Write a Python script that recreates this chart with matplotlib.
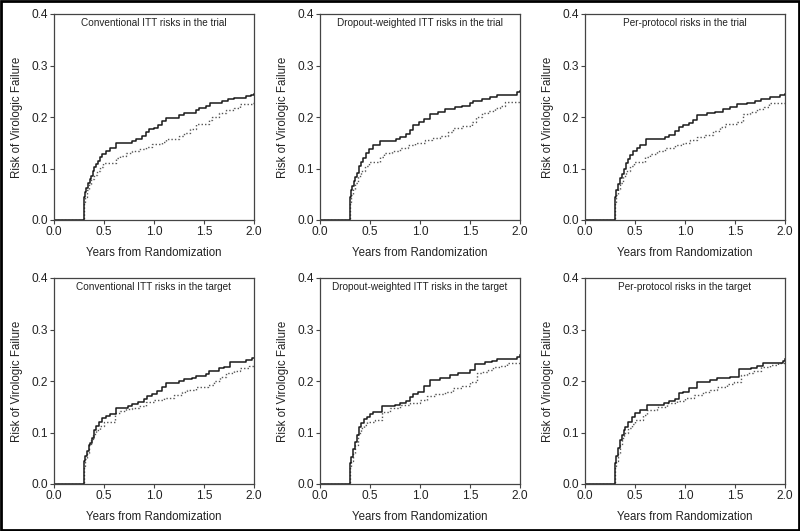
import matplotlib
matplotlib.use('Agg')
import matplotlib.pyplot as plt
from matplotlib.patches import Rectangle

plt.rcParams['font.family'] = ['Liberation Sans', 'DejaVu Sans']

titles = ['Conventional ITT risks in the trial',
          'Dropout-weighted ITT risks in the trial',
          'Per-protocol risks in the trial',
          'Conventional ITT risks in the target',
          'Dropout-weighted ITT risks in the target',
          'Per-protocol risks in the target']

xticks = [0.0, 0.5, 1.0, 1.5, 2.0]
yticks = [0.0, 0.1, 0.2, 0.3, 0.4]

# solid curves (years, risk)
t_solid_1 = [0, 0.30, 0.31, 0.32, 0.34, 0.36, 0.37, 0.39, 0.40, 0.42, 0.44, 0.46, 0.48, 0.52, 0.56, 0.62, 0.78, 0.82, 0.88, 0.92, 0.95, 1.0, 1.04, 1.08, 1.12, 1.25, 1.3, 1.42, 1.45, 1.52, 1.56, 1.68, 1.74, 1.8, 1.92, 1.97, 2.0]
r_solid_1 = [0, 0.045, 0.055, 0.062, 0.072, 0.080, 0.085, 0.095, 0.103, 0.108, 0.115, 0.122, 0.128, 0.134, 0.140, 0.150, 0.154, 0.158, 0.163, 0.170, 0.176, 0.179, 0.185, 0.192, 0.199, 0.204, 0.207, 0.213, 0.217, 0.222, 0.228, 0.231, 0.234, 0.237, 0.240, 0.243, 0.245]
t_dot_1 = [0, 0.30, 0.31, 0.33, 0.35, 0.37, 0.40, 0.43, 0.46, 0.49, 0.62, 0.66, 0.72, 0.78, 0.85, 0.92, 0.98, 1.08, 1.12, 1.25, 1.3, 1.36, 1.42, 1.55, 1.58, 1.65, 1.72, 1.8, 1.86, 1.98, 2.0]
r_dot_1 = [0, 0.035, 0.045, 0.058, 0.07, 0.08, 0.088, 0.095, 0.103, 0.111, 0.12, 0.125, 0.13, 0.134, 0.138, 0.141, 0.148, 0.152, 0.158, 0.163, 0.168, 0.176, 0.186, 0.195, 0.2, 0.207, 0.213, 0.218, 0.226, 0.228, 0.228]

t_solid_2 = [0, 0.30, 0.31, 0.32, 0.34, 0.35, 0.37, 0.39, 0.41, 0.43, 0.46, 0.49, 0.53, 0.60, 0.76, 0.80, 0.86, 0.90, 0.93, 0.99, 1.04, 1.10, 1.18, 1.25, 1.35, 1.42, 1.50, 1.53, 1.62, 1.70, 1.77, 1.92, 1.97, 2.0]
r_solid_2 = [0, 0.045, 0.058, 0.066, 0.075, 0.084, 0.092, 0.104, 0.112, 0.12, 0.131, 0.138, 0.145, 0.154, 0.157, 0.161, 0.167, 0.175, 0.185, 0.19, 0.197, 0.205, 0.21, 0.215, 0.219, 0.222, 0.227, 0.232, 0.235, 0.238, 0.242, 0.243, 0.248, 0.251]
t_dot_2 = [0, 0.30, 0.31, 0.33, 0.35, 0.38, 0.41, 0.45, 0.49, 0.6, 0.64, 0.72, 0.8, 0.88, 0.95, 1.05, 1.12, 1.2, 1.28, 1.33, 1.42, 1.52, 1.56, 1.62, 1.68, 1.75, 1.8, 1.85, 2.0]
r_dot_2 = [0, 0.035, 0.048, 0.06, 0.072, 0.085, 0.095, 0.104, 0.113, 0.122, 0.13, 0.134, 0.139, 0.145, 0.149, 0.155, 0.16, 0.164, 0.17, 0.178, 0.183, 0.19, 0.2, 0.207, 0.212, 0.218, 0.222, 0.229, 0.23]

t_solid_3 = [0, 0.30, 0.31, 0.33, 0.35, 0.37, 0.39, 0.41, 0.43, 0.45, 0.48, 0.52, 0.55, 0.61, 0.80, 0.84, 0.90, 0.94, 0.98, 1.04, 1.08, 1.12, 1.22, 1.30, 1.38, 1.45, 1.52, 1.62, 1.70, 1.76, 1.85, 1.95, 2.0]
r_solid_3 = [0, 0.045, 0.058, 0.07, 0.082, 0.09, 0.1, 0.11, 0.118, 0.126, 0.134, 0.14, 0.145, 0.157, 0.161, 0.166, 0.172, 0.18, 0.184, 0.188, 0.195, 0.203, 0.207, 0.21, 0.215, 0.219, 0.225, 0.228, 0.232, 0.235, 0.238, 0.242, 0.245]
t_dot_3 = [0, 0.30, 0.31, 0.33, 0.35, 0.38, 0.41, 0.45, 0.49, 0.6, 0.65, 0.72, 0.8, 0.9, 0.98, 1.05, 1.12, 1.2, 1.28, 1.35, 1.4, 1.52, 1.58, 1.65, 1.72, 1.79, 1.84, 2.0]
r_dot_3 = [0, 0.035, 0.048, 0.06, 0.072, 0.085, 0.095, 0.104, 0.113, 0.122, 0.129, 0.134, 0.139, 0.145, 0.149, 0.155, 0.161, 0.166, 0.172, 0.18, 0.187, 0.19, 0.205, 0.21, 0.215, 0.219, 0.228, 0.229]

t_solid_4 = [0, 0.30, 0.31, 0.33, 0.35, 0.36, 0.38, 0.40, 0.42, 0.45, 0.48, 0.52, 0.56, 0.62, 0.74, 0.78, 0.84, 0.90, 0.93, 0.98, 1.03, 1.08, 1.12, 1.25, 1.3, 1.38, 1.42, 1.52, 1.55, 1.65, 1.7, 1.76, 1.92, 1.98, 2.0]
r_solid_4 = [0, 0.045, 0.055, 0.065, 0.075, 0.08, 0.09, 0.105, 0.112, 0.12, 0.128, 0.132, 0.136, 0.147, 0.152, 0.156, 0.16, 0.165, 0.17, 0.175, 0.18, 0.188, 0.196, 0.2, 0.203, 0.206, 0.21, 0.214, 0.22, 0.225, 0.228, 0.237, 0.24, 0.244, 0.244]
t_dot_4 = [0, 0.30, 0.31, 0.33, 0.35, 0.37, 0.39, 0.42, 0.46, 0.50, 0.61, 0.66, 0.72, 0.78, 0.85, 0.92, 1.0, 1.1, 1.2, 1.28, 1.33, 1.42, 1.54, 1.6, 1.66, 1.72, 1.8, 1.86, 1.95, 2.0]
r_dot_4 = [0, 0.035, 0.048, 0.06, 0.075, 0.088, 0.098, 0.105, 0.113, 0.121, 0.137, 0.141, 0.145, 0.148, 0.152, 0.16, 0.163, 0.167, 0.172, 0.178, 0.183, 0.188, 0.192, 0.2, 0.208, 0.215, 0.22, 0.225, 0.23, 0.232]

t_solid_5 = [0, 0.30, 0.31, 0.33, 0.35, 0.37, 0.39, 0.41, 0.44, 0.47, 0.50, 0.53, 0.62, 0.75, 0.80, 0.86, 0.90, 0.93, 0.98, 1.04, 1.10, 1.20, 1.30, 1.38, 1.50, 1.55, 1.65, 1.72, 1.77, 1.92, 1.97, 2.0]
r_solid_5 = [0, 0.04, 0.052, 0.068, 0.082, 0.095, 0.111, 0.118, 0.126, 0.131, 0.136, 0.14, 0.151, 0.154, 0.158, 0.162, 0.168, 0.175, 0.179, 0.19, 0.202, 0.206, 0.212, 0.216, 0.221, 0.233, 0.236, 0.239, 0.242, 0.242, 0.247, 0.25]
t_dot_5 = [0, 0.30, 0.31, 0.33, 0.35, 0.38, 0.41, 0.44, 0.47, 0.55, 0.62, 0.7, 0.8, 0.9, 1.0, 1.07, 1.15, 1.25, 1.33, 1.42, 1.5, 1.57, 1.62, 1.68, 1.73, 1.8, 1.87, 2.0]
r_dot_5 = [0, 0.035, 0.045, 0.06, 0.075, 0.1, 0.108, 0.115, 0.121, 0.125, 0.14, 0.147, 0.153, 0.158, 0.163, 0.17, 0.174, 0.179, 0.186, 0.19, 0.199, 0.215, 0.218, 0.222, 0.228, 0.23, 0.234, 0.236]

t_solid_6 = [0, 0.30, 0.31, 0.33, 0.35, 0.37, 0.39, 0.40, 0.43, 0.47, 0.50, 0.55, 0.62, 0.79, 0.84, 0.90, 0.94, 0.98, 1.04, 1.12, 1.25, 1.32, 1.45, 1.54, 1.66, 1.72, 1.78, 1.92, 1.98, 2.0]
r_solid_6 = [0, 0.04, 0.055, 0.07, 0.085, 0.095, 0.105, 0.111, 0.12, 0.131, 0.138, 0.144, 0.153, 0.157, 0.161, 0.166, 0.176, 0.179, 0.186, 0.199, 0.202, 0.205, 0.208, 0.223, 0.226, 0.229, 0.234, 0.234, 0.239, 0.242]
t_dot_6 = [0, 0.30, 0.31, 0.33, 0.35, 0.37, 0.39, 0.43, 0.47, 0.50, 0.58, 0.62, 0.72, 0.82, 0.92, 1.0, 1.09, 1.18, 1.25, 1.32, 1.42, 1.49, 1.56, 1.62, 1.68, 1.76, 1.85, 1.93, 2.0]
r_dot_6 = [0, 0.035, 0.045, 0.06, 0.075, 0.09, 0.1, 0.108, 0.116, 0.124, 0.134, 0.144, 0.15, 0.157, 0.162, 0.167, 0.173, 0.178, 0.182, 0.189, 0.194, 0.199, 0.212, 0.216, 0.22, 0.228, 0.231, 0.234, 0.237]

solids = [(t_solid_1, r_solid_1), (t_solid_2, r_solid_2), (t_solid_3, r_solid_3),
          (t_solid_4, r_solid_4), (t_solid_5, r_solid_5), (t_solid_6, r_solid_6)]
dots = [(t_dot_1, r_dot_1), (t_dot_2, r_dot_2), (t_dot_3, r_dot_3),
        (t_dot_4, r_dot_4), (t_dot_5, r_dot_5), (t_dot_6, r_dot_6)]

fig = plt.figure(figsize=(8, 5.31), dpi=100)

lefts = [54/800, 320/800, 585/800]
bottoms = [(531-220)/531, (531-484)/531]
w = 200/800
h = 206/531

spine_col = '#444444'
for i in range(6):
    row, col = divmod(i, 3)
    ax = fig.add_axes([lefts[col], bottoms[row], w, h])
    ts, rs = solids[i]
    td, rd = dots[i]
    ax.step(td, rd, where='post', color='#555555', lw=1.0, ls=(0, (1, 1.5)))
    ax.step(ts, rs, where='post', color='#1a1a1a', lw=1.1)
    ax.set_xlim(0, 2.0)
    ax.set_ylim(0, 0.4)
    ax.set_xticks(xticks)
    ax.set_yticks(yticks)
    ax.set_xticklabels(['%.1f' % v for v in xticks])
    ax.set_yticklabels(['%.1f' % v for v in yticks])
    ax.tick_params(direction='out', length=3, width=0.8, pad=1.5,
                   labelsize=8.6, colors=spine_col, labelcolor='#222222')
    for s in ax.spines.values():
        s.set_color(spine_col)
        s.set_linewidth(0.9)
    ax.set_xlabel('Years from Randomization', fontsize=8.3, color='#222222', labelpad=6)
    ax.set_ylabel('Risk of Virologic Failure', fontsize=8.3, color='#222222', labelpad=6)
    ax.text(0.5, 0.958, titles[i], transform=ax.transAxes, ha='center', va='center',
            fontsize=7.2, color='#222222')

# outer frame
fig.patches.append(Rectangle((0.0015, 0.002), 0.997, 0.996, transform=fig.transFigure,
                             fill=False, edgecolor='black', lw=2))

fig.savefig('out.png', dpi=100)
